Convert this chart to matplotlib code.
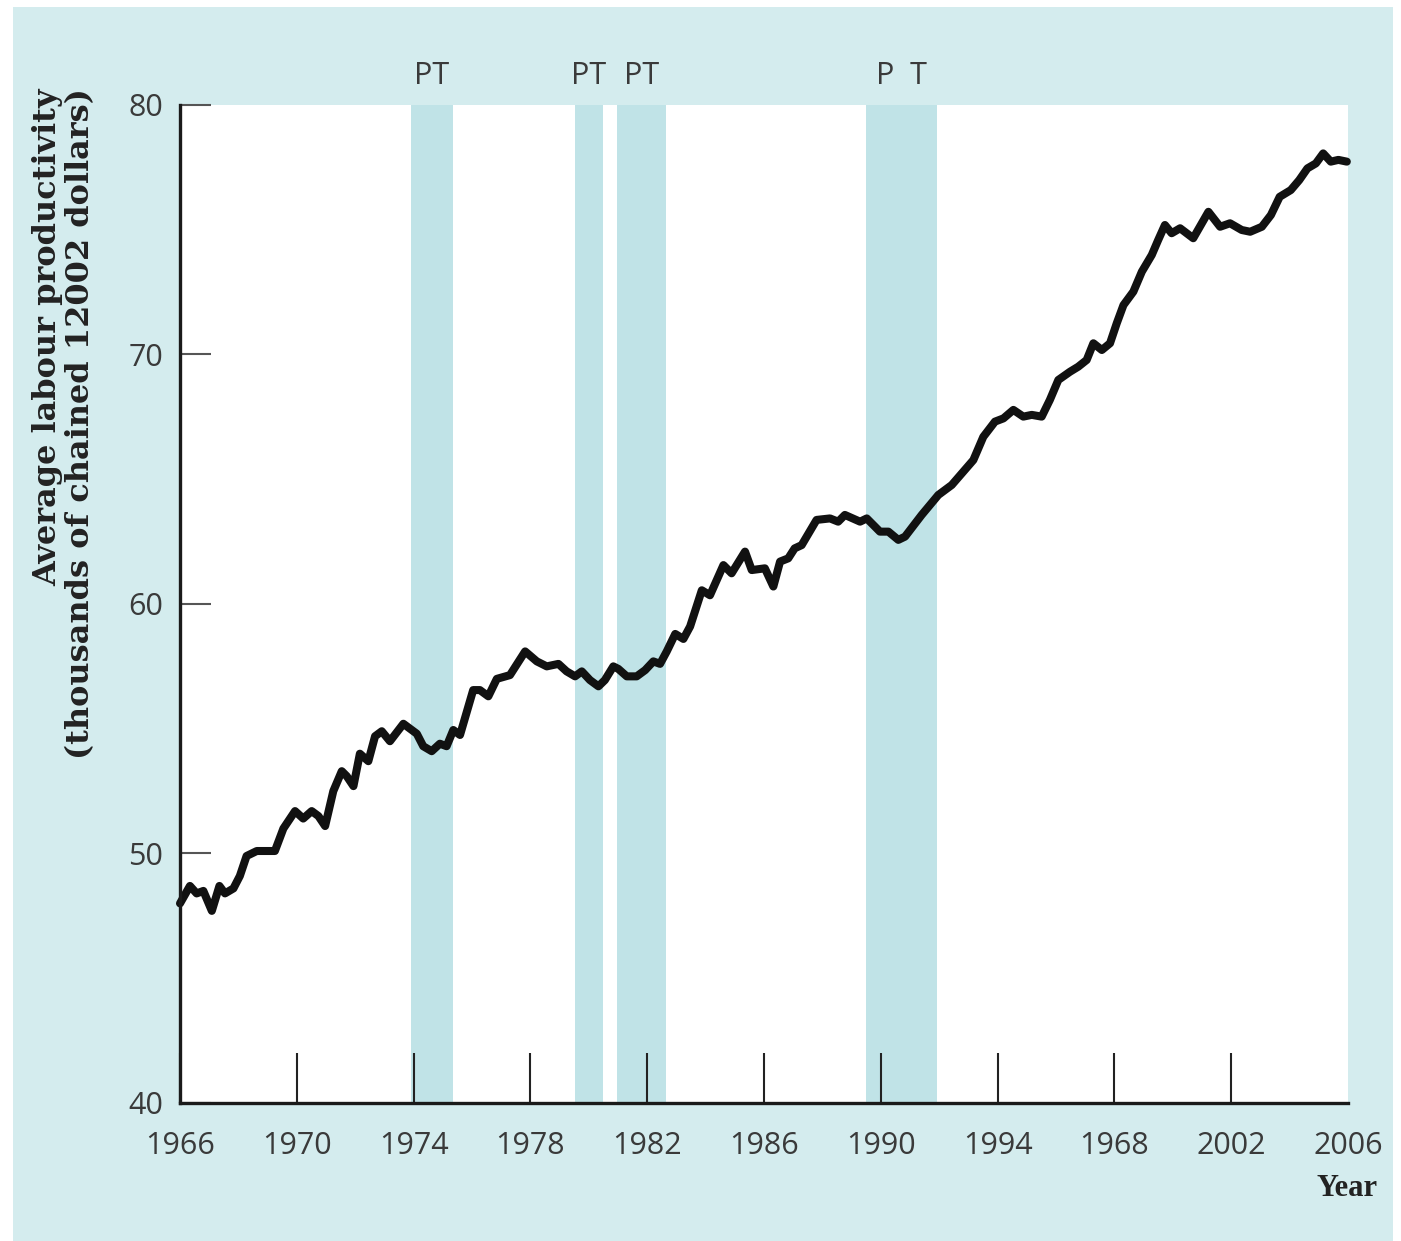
import matplotlib.pyplot as plt
from matplotlib.patches import Rectangle

# Average labour productivity (year, thousands of chained 2002 $)
years = [1966.00, 1966.34, 1966.57, 1966.80, 1967.09, 1967.35, 1967.54, 1967.83,
         1968.05, 1968.28, 1968.63, 1968.97, 1969.25, 1969.54, 1969.94, 1970.22,
         1970.51, 1970.74, 1970.97, 1971.25, 1971.54, 1971.71, 1971.94, 1972.16,
         1972.45, 1972.68, 1972.91, 1973.19, 1973.65, 1974.11, 1974.33, 1974.62,
         1974.90, 1975.13, 1975.36, 1975.59, 1976.04, 1976.27, 1976.56, 1976.85,
         1977.30, 1977.82, 1978.22, 1978.56, 1978.96, 1979.24, 1979.53, 1979.76,
         1980.04, 1980.33, 1980.55, 1980.84, 1981.01, 1981.30, 1981.64, 1981.93,
         1982.21, 1982.44, 1982.67, 1982.96, 1983.24, 1983.47, 1983.87, 1984.15,
         1984.61, 1984.89, 1985.35, 1985.58, 1986.03, 1986.32, 1986.55, 1986.83,
         1987.05, 1987.29, 1987.80, 1988.26, 1988.54, 1988.77, 1989.29, 1989.52,
         1989.97, 1990.26, 1990.60, 1990.83, 1991.40, 1991.97, 1992.43, 1992.82,
         1993.17, 1993.51, 1993.91, 1994.20, 1994.54, 1994.88, 1995.17, 1995.51,
         1995.79, 1996.08, 1996.48, 1996.76, 1997.05, 1997.28, 1997.57, 1997.85,
         1998.08, 1998.31, 1998.65, 1998.94, 1999.28, 1999.50, 1999.73, 1999.96,
         2000.25, 2000.70, 2001.22, 2001.62, 2001.96, 2002.36, 2002.65, 2003.05,
         2003.36, 2003.66, 2004.04, 2004.33, 2004.61, 2004.90, 2005.15, 2005.41,
         2005.67, 2005.96]
productivity = [48.0, 48.7, 48.4, 48.5, 47.7, 48.7, 48.4, 48.6,
                49.1, 49.9, 50.1, 50.1, 50.1, 51.0, 51.7, 51.4,
                51.7, 51.5, 51.1, 52.5, 53.3, 53.1, 52.7, 54.0,
                53.7, 54.7, 54.9, 54.5, 55.2, 54.8, 54.3, 54.1,
                54.4, 54.3, 54.95, 54.75, 56.55, 56.55, 56.3, 57.0,
                57.15, 58.1, 57.7, 57.5, 57.6, 57.3, 57.1, 57.3,
                56.95, 56.7, 56.95, 57.5, 57.4, 57.1, 57.1, 57.35,
                57.7, 57.6, 58.1, 58.8, 58.6, 59.1, 60.55, 60.35,
                61.56, 61.23, 62.1, 61.36, 61.43, 60.7, 61.7, 61.83,
                62.23, 62.36, 63.37, 63.43, 63.3, 63.57, 63.3, 63.43,
                62.9, 62.9, 62.57, 62.7, 63.57, 64.37, 64.77, 65.3,
                65.77, 66.7, 67.31, 67.44, 67.78, 67.51, 67.58, 67.51,
                68.18, 68.98, 69.31, 69.51, 69.78, 70.45, 70.18, 70.45,
                71.25, 71.98, 72.52, 73.32, 73.99, 74.59, 75.19, 74.86,
                75.06, 74.66, 75.72, 75.12, 75.26, 74.99, 74.92, 75.12,
                75.59, 76.32, 76.59, 76.99, 77.46, 77.66, 78.06, 77.73,
                77.80, 77.73]

# recession bands (peak -> trough)
band_start = [1973.9, 1979.53, 1980.97, 1989.49]
band_end = [1975.35, 1980.49, 1982.64, 1991.92]
band_labels = ['PT', 'PT', 'PT', 'P  T']

x_ticks = [1966, 1970, 1974, 1978, 1982, 1986, 1990, 1994, 1998, 2002, 2006]
x_ticklabels = ['1966', '1970', '1974', '1978', '1982', '1986', '1990',
                '1994', '1968', '2002', '2006']
y_ticks = [40, 50, 60, 70, 80]

panel = '#d4ecee'
band = '#c0e3e7'
tick_font = ['Liberation Sans Narrow', 'Open Sans', 'DejaVu Sans']

W, H = 1401, 1241
fig = plt.figure(figsize=(W / 100, H / 100), dpi=100, facecolor='white')
fig.patches.append(Rectangle((13 / W, 0), (1393 - 13) / W, (H - 7) / H,
                             transform=fig.transFigure, facecolor=panel,
                             edgecolor='none', zorder=-10))

ax = fig.add_axes([180 / W, 1 - 1103 / H, (1348 - 180) / W, (1103 - 105) / H])
ax.set_facecolor('white')

for s, e in zip(band_start, band_end):
    ax.axvspan(s, e, color=band, lw=0, zorder=1)

ax.plot(years, productivity, color='#111111', lw=5.8, solid_joinstyle='round',
        solid_capstyle='round', zorder=3, clip_on=False)

ax.set_xlim(1966, 2006)
ax.set_ylim(40, 80)

for spine in ['top', 'right']:
    ax.spines[spine].set_visible(False)
for spine in ['left', 'bottom']:
    ax.spines[spine].set_linewidth(2.4)
    ax.spines[spine].set_color('#1a1a1a')
    ax.spines[spine].set_zorder(4)

ax.set_xticks(x_ticks)
ax.set_xticklabels(x_ticklabels)
ax.set_yticks(y_ticks)
ax.tick_params(axis='x', direction='in', length=36, width=1.5, color='#222222',
               pad=20, labelsize=22, labelcolor='#3a3a3a')
ax.tick_params(axis='y', direction='in', length=22, width=1.5, color='#555555',
               pad=12, labelsize=22, labelcolor='#3a3a3a')
for lab in ax.get_xticklabels() + ax.get_yticklabels():
    lab.set_family(tick_font)
ax.xaxis.get_major_ticks()[-1].tick1line.set_visible(False)

for s, e, lab in zip(band_start, band_end, band_labels):
    ax.text((s + e) / 2, 1.014, lab, transform=ax.get_xaxis_transform(),
            ha='center', va='bottom', fontsize=22, color='#3a3a3a',
            family=tick_font)

fig.text(64 / W, 1 - 88 / H,
         'Average labour productivity\n(thousands of chained 12002 dollars)',
         rotation=90, ha='center', va='top', multialignment='right',
         family='DejaVu Serif', fontweight='bold', fontsize=23,
         color='#222222', linespacing=1.05)
fig.text(1378 / W, 1 - 1188 / H, 'Year', ha='right', va='center',
         family='Liberation Serif', fontweight='bold', fontsize=22,
         color='#222222')

fig.savefig('out.png', dpi=100, facecolor='white')
